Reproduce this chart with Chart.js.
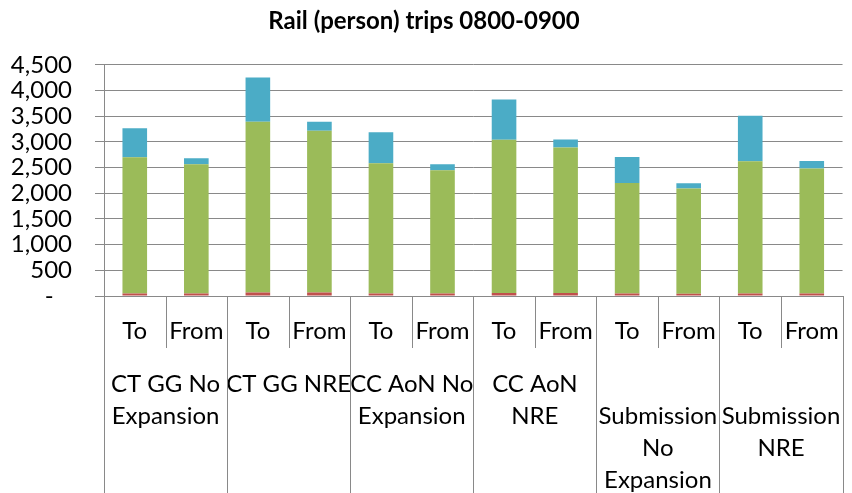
<!DOCTYPE html>
<html>
<head>
<meta charset="utf-8">
<script src="https://cdn.jsdelivr.net/npm/chart.js@4/dist/chart.umd.min.js"></script>
<style>
html,body{margin:0;padding:0;background:#fff;}
#wrap{width:852px;height:493px;position:relative;}
</style>
</head>
<body>
<div id="wrap"><canvas id="c" width="852" height="493"></canvas></div>
<script>
const title = "Rail (person) trips 0800-0900";
const directions = ["To","From","To","From","To","From","To","From","To","From","To","From"];
const groups = [
  ["CT GG No","Expansion"],
  ["CT GG NRE"],
  ["CC AoN No","Expansion"],
  ["CC AoN","NRE"],
  ["","Submission","No","Expansion"],
  ["","Submission","NRE"]
];
const redSeries   = [50, 50, 70, 70, 50, 50, 60, 60, 50, 45, 50, 50];
const greenSeries = [2650, 2515, 3320, 3144, 2535, 2398, 2980, 2830, 2150, 2045, 2575, 2430];
const blueSeries  = [565, 117, 863, 176, 604, 117, 786, 155, 507, 104, 883, 150];
const yMin = 0, yMax = 4500, yStep = 500;

const FONT = "Lato, 'Liberation Sans', sans-serif";
const GRID = "#898989";

const separators = {
  id: 'separators',
  afterDraw(chart) {
    const x = chart.scales.x;
    const ctx = chart.ctx;
    const bottom = chart.chartArea.bottom;
    const n = directions.length;
    const w = (x.right - x.left) / n;
    ctx.save();
    ctx.strokeStyle = GRID;
    ctx.lineWidth = 1;
    for (let i = 0; i <= n; i++) {
      const px = Math.round(x.left + i * w) + 0.5;
      const end = (i % 2 === 0) ? chart.height : bottom + 52;
      ctx.beginPath();
      ctx.moveTo(px, bottom);
      ctx.lineTo(px, end);
      ctx.stroke();
    }
    ctx.restore();
  }
};

new Chart(document.getElementById('c'), {
  type: 'bar',
  data: {
    labels: directions,
    datasets: [
      {label: 'Series 1', data: redSeries, backgroundColor: '#C0504D'},
      {label: 'Series 2', data: greenSeries, backgroundColor: '#9BBB59'},
      {label: 'Series 3', data: blueSeries, backgroundColor: '#4BACC6'}
    ]
  },
  options: {
    responsive: false,
    animation: false,
    devicePixelRatio: 1,
    layout: {padding: {left: 0, right: 4, top: 0, bottom: 0}},
    datasets: {bar: {categoryPercentage: 1.0, barPercentage: 0.4}},
    plugins: {
      legend: {display: false},
      tooltip: {enabled: false},
      title: {
        display: true,
        text: title,
        color: '#000',
        font: {family: FONT, size: 24, weight: 'bold', lineHeight: 1.2},
        padding: {top: 7, bottom: 29}
      }
    },
    scales: {
      x: {
        stacked: true,
        position: 'bottom',
        offset: true,
        grid: {display: false},
        border: {display: true, color: GRID, width: 1},
        ticks: {color: '#000', font: {family: FONT, size: 24, lineHeight: 1.2}, padding: 13, maxRotation: 0, autoSkip: false},
        afterFit(s) { s.height = 56; }
      },
      x2: {
        type: 'category',
        labels: groups,
        position: 'bottom',
        offset: true,
        grid: {display: false},
        border: {display: false},
        ticks: {color: '#000', font: {family: FONT, size: 24, lineHeight: 1.333}, padding: 8, maxRotation: 0, autoSkip: false},
        afterFit(s) { s.height = 141; }
      },
      y: {
        stacked: true,
        min: yMin,
        max: yMax,
        grid: {color: GRID, lineWidth: 1, tickLength: 9, drawTicks: true},
        border: {display: true, color: GRID, width: 1},
        ticks: {
          stepSize: yStep,
          autoSkip: false,
          color: '#000',
          font: {family: FONT, size: 24},
          padding: 23,
          callback(v) { return v === 0 ? '-   ' : v.toLocaleString('en-US'); }
        },
        afterFit(s) { s.width = 104; }
      }
    }
  },
  plugins: [separators]
});
</script>
</body>
</html>
